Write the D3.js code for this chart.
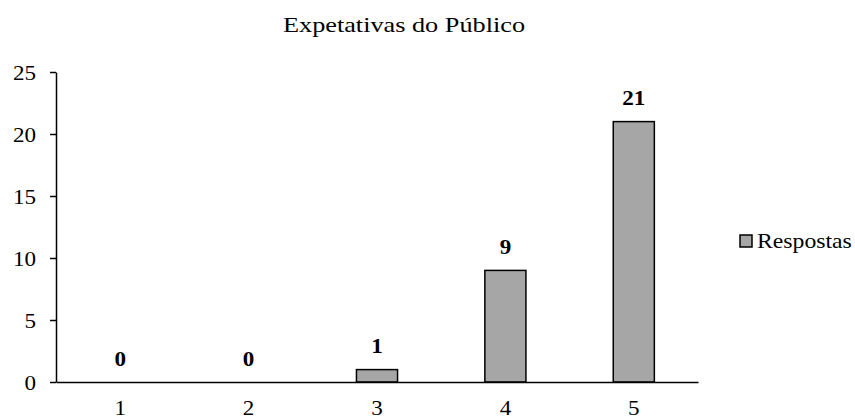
<!DOCTYPE html>
<html>
<head>
<meta charset="utf-8">
<script src="https://cdn.jsdelivr.net/npm/d3@7"></script>
<style>
  html, body { margin: 0; padding: 0; background: #fff; }
  svg text { font-family: "Liberation Serif", "Times New Roman", serif; fill: #000; }
</style>
</head>
<body>
<svg id="chart" width="855" height="419"></svg>
<script>
// Survey answers per rating level
const categories = ["1", "2", "3", "4", "5"];
const respostas = [0, 0, 1, 9, 21];
const yTicks = [0, 5, 10, 15, 20, 25];
const title = "Expetativas do Público";
const seriesName = "Respostas";

const FONT = "'Liberation Serif', 'Times New Roman', serif";
const FS = 21;       // base font size
const SX = 1.1;      // horizontal widening of the glyphs
const SX_TITLE = 1.25;

const svg = d3.select("#chart");
const margin = { left: 56, right: 157, top: 72, bottom: 37 };
const W = 855, H = 419;

const rows = categories.map((c, i) => ({ cat: c, value: respostas[i] }));

const x = d3.scaleBand()
  .domain(categories)
  .range([margin.left, W - margin.right])
  .paddingInner(0.68)
  .paddingOuter(0.34);

const y = d3.scaleLinear()
  .domain([0, 25])
  .range([H - margin.bottom, margin.top]);

// place a widened text at (px, py)
function wideText(sel, px, py, sx) {
  sel.attr("x", 0).attr("y", 0)
    .attr("transform", `translate(${px},${py}) scale(${sx},1)`);
}

// title
svg.append("text")
  .attr("text-anchor", "middle")
  .style("font-size", FS + "px")
  .text(title)
  .call(wideText, 404, 31.5, SX_TITLE);

// bars
svg.append("g").selectAll("rect")
  .data(rows.filter(d => d.value > 0))
  .join("rect")
  .attr("x", d => x(d.cat))
  .attr("y", d => y(d.value))
  .attr("width", x.bandwidth())
  .attr("height", d => y(0) - y(d.value))
  .attr("fill", "#a6a6a6")
  .attr("stroke", "#000")
  .attr("stroke-width", 1.5);

// value labels
svg.append("g").selectAll("text")
  .data(rows)
  .join("text")
  .attr("text-anchor", "middle")
  .style("font-size", FS + "px")
  .style("font-weight", "bold")
  .text(d => d.value)
  .each(function (d) {
    d3.select(this).call(wideText, x(d.cat) + x.bandwidth() / 2, y(d.value) - 16.5, SX);
  });

// y axis
const yAxis = svg.append("g")
  .attr("transform", `translate(${margin.left},0)`)
  .call(d3.axisLeft(y).tickValues(yTicks).tickSize(6).tickSizeOuter(0).tickPadding(14));
yAxis.select(".domain").attr("stroke", "#000").attr("stroke-width", 1.5);
yAxis.selectAll(".tick line").attr("stroke", "#000").attr("stroke-width", 1.5);
yAxis.selectAll(".tick text")
  .style("font-size", FS + "px")
  .style("font-family", FONT)
  .attr("dy", null)
  .call(wideText, -20, 7, SX);

// x axis
const xAxis = svg.append("g")
  .attr("transform", `translate(0,${y(0)})`)
  .call(d3.axisBottom(x).tickSize(0).tickSizeOuter(0));
xAxis.select(".domain").attr("stroke", "#000").attr("stroke-width", 1.5);
xAxis.selectAll(".tick text")
  .style("font-size", FS + "px")
  .style("font-family", FONT)
  .attr("dy", null)
  .call(wideText, 0, 33, SX);

// legend
const lg = svg.append("g").attr("transform", "translate(740,235)");
lg.append("rect")
  .attr("width", 12).attr("height", 12)
  .attr("fill", "#a6a6a6")
  .attr("stroke", "#000")
  .attr("stroke-width", 1.5);
lg.append("text")
  .style("font-size", FS + "px")
  .text(seriesName)
  .call(wideText, 17, 12.5, 1.13);
</script>
</body>
</html>
